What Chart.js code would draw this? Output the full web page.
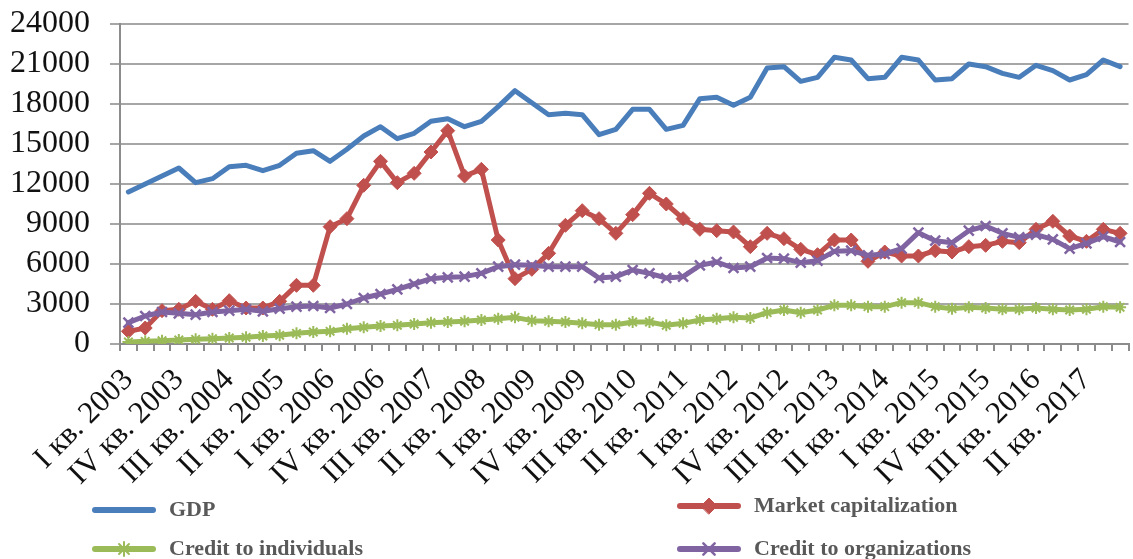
<!DOCTYPE html>
<html>
<head>
<meta charset="utf-8">
<script src="https://cdn.jsdelivr.net/npm/chart.js@4.4.1/dist/chart.umd.min.js"></script>
<style>
  html, body { margin: 0; padding: 0; background: #ffffff; overflow: hidden; width: 1133px; height: 559px; }
  #wrap { position: relative; width: 1138px; height: 559px; }
  canvas { display: block; }
</style>
</head>
<body>
<div id="wrap"><canvas id="chart" width="1138" height="559"></canvas></div>
<script>
// Quarters I 2003 … IV 2017
const years = [2003, 2004, 2005, 2006, 2007, 2008, 2009, 2010, 2011, 2012, 2013, 2014, 2015, 2016, 2017];
const quarterNames = ['I', 'II', 'III', 'IV'];
const quarters = [];
years.forEach(y => quarterNames.forEach(q => quarters.push(q + ' кв. ' + y)));

// Y axis ticks
const yTicks = [0, 3000, 6000, 9000, 12000, 15000, 18000, 21000, 24000];

// Series values, quarterly
const gdp = [
  11400, 12000, 12600, 13200, 12100, 12400, 13300, 13400, 13000, 13400,
  14300, 14500, 13700, 14600, 15600, 16300, 15400, 15800, 16700, 16900,
  16300, 16700, 17800, 19000, 18100, 17200, 17300, 17200, 15700, 16100,
  17600, 17600, 16100, 16400, 18400, 18500, 17900, 18500, 20700, 20800,
  19700, 20000, 21500, 21300, 19900, 20000, 21500, 21300, 19800, 19900,
  21000, 20800, 20300, 20000, 20900, 20500, 19800, 20200, 21300, 20800
];
const marketCap = [
  950, 1200, 2500, 2600, 3200, 2600, 3250, 2700, 2700, 3200,
  4400, 4400, 8800, 9400, 11900, 13700, 12100, 12800, 14400, 16000,
  12600, 13100, 7800, 4900, 5600, 6800, 8900, 10000, 9400, 8300,
  9700, 11300, 10500, 9400, 8600, 8500, 8400, 7300, 8300, 7900,
  7100, 6700, 7800, 7800, 6200, 6900, 6600, 6600, 7000, 6900,
  7300, 7400, 7700, 7600, 8600, 9200, 8100, 7700, 8600, 8300
];
const creditIndividuals = [
  150, 200, 250, 300, 350, 400, 450, 500, 600, 650,
  800, 900, 950, 1150, 1250, 1350, 1400, 1500, 1600, 1650,
  1700, 1800, 1900, 2000, 1750, 1700, 1650, 1550, 1450, 1450,
  1650, 1650, 1400, 1550, 1800, 1900, 2000, 1950, 2350, 2550,
  2350, 2550, 2900, 2900, 2800, 2800, 3100, 3100, 2800, 2650,
  2750, 2700, 2600, 2600, 2700, 2600, 2550, 2600, 2800, 2750
];
const creditOrganizations = [
  1600, 2100, 2400, 2300, 2200, 2400, 2500, 2600, 2450, 2650,
  2800, 2850, 2700, 3000, 3450, 3750, 4100, 4500, 4900, 5000,
  5050, 5300, 5800, 5950, 5900, 5800, 5800, 5800, 4950, 5050,
  5550, 5300, 4950, 5050, 5900, 6150, 5700, 5800, 6450, 6400,
  6100, 6250, 6950, 7000, 6650, 6750, 7150, 8350, 7750, 7600,
  8500, 8850, 8300, 8000, 8200, 7850, 7150, 7550, 8050, 7650
];

const SERIF = '"Liberation Serif", "Times New Roman", serif';

const datasets = [
  {
    label: 'GDP', data: gdp, order: 3,
    borderColor: '#4a7ebb', borderWidth: 5, pointRadius: 0,
    borderJoinStyle: 'round', borderCapStyle: 'round'
  },
  {
    label: 'Market capitalization', data: marketCap, order: 2,
    borderColor: '#c0504d', borderWidth: 5,
    pointStyle: 'rectRot', pointRadius: 7, pointBorderWidth: 1,
    pointBackgroundColor: '#c0504d', pointBorderColor: '#c0504d',
    borderJoinStyle: 'round', borderCapStyle: 'round'
  },
  {
    label: 'Credit to individuals', data: creditIndividuals, order: 1,
    borderColor: '#9bbb59', borderWidth: 5,
    pointStyle: 'star', pointRadius: 6, pointBorderWidth: 2,
    pointBackgroundColor: '#9bbb59', pointBorderColor: '#9bbb59',
    borderJoinStyle: 'round', borderCapStyle: 'round'
  },
  {
    label: 'Credit to organizations', data: creditOrganizations, order: 0,
    borderColor: '#8064a2', borderWidth: 5,
    pointStyle: 'crossRot', pointRadius: 7, pointBorderWidth: 2.5,
    pointBackgroundColor: '#8064a2', pointBorderColor: '#8064a2',
    borderJoinStyle: 'round', borderCapStyle: 'round'
  }
];

// Two-column legend under the axis labels
const legendLayout = [
  { ds: 0, x: 95, y: 510 },
  { ds: 1, x: 680, y: 506 },
  { ds: 2, x: 95, y: 549 },
  { ds: 3, x: 680, y: 549 }
];
const legendPlugin = {
  id: 'gridLegend',
  afterDraw(chart) {
    const ctx = chart.ctx;
    ctx.save();
    legendLayout.forEach(item => {
      const ds = chart.data.datasets[item.ds];
      const len = 58;
      ctx.strokeStyle = ds.borderColor;
      ctx.lineWidth = 6;
      ctx.lineCap = 'round';
      ctx.beginPath();
      ctx.moveTo(item.x, item.y);
      ctx.lineTo(item.x + len, item.y);
      ctx.stroke();
      if (ds.pointRadius) {
        ctx.fillStyle = ds.pointBackgroundColor;
        ctx.strokeStyle = ds.pointBorderColor;
        ctx.lineWidth = ds.pointBorderWidth;
        Chart.helpers.drawPoint(ctx, {
          pointStyle: ds.pointStyle, radius: ds.pointRadius + 1,
          borderWidth: ds.pointBorderWidth, rotation: 0
        }, item.x + len / 2, item.y);
      }
      ctx.fillStyle = '#595959';
      ctx.font = 'bold 22px ' + SERIF;
      ctx.textAlign = 'left';
      ctx.textBaseline = 'middle';
      ctx.fillText(ds.label, item.x + len + 16, item.y);
    });
    ctx.restore();
  }
};

new Chart(document.getElementById('chart'), {
  type: 'line',
  data: { labels: quarters, datasets: datasets },
  plugins: [legendPlugin],
  options: {
    responsive: false,
    animation: false,
    layout: { padding: { top: 24, left: 0, right: 0, bottom: 0 } },
    elements: { line: { tension: 0 } },
    plugins: { legend: { display: false }, tooltip: { enabled: false } },
    scales: {
      x: {
        offset: true,
        grid: { offset: true, drawOnChartArea: false, drawTicks: true, tickLength: 7, color: '#8c8c8c', lineWidth: 2 },
        border: { display: true, color: '#8c8c8c', width: 2 },
        ticks: {
          autoSkip: false, minRotation: 45, maxRotation: 45, padding: 11,
          color: '#111111', font: { family: SERIF, size: 31 },
          callback: (v, i) => (i % 3 === 0 ? quarters[i] : '')
        },
        afterFit: s => { s.height = 215; s.paddingLeft = 0; s.paddingRight = 0; }
      },
      y: {
        min: yTicks[0], max: yTicks[yTicks.length - 1],
        afterBuildTicks: s => { s.ticks = yTicks.map(v => ({ value: v })); },
        grid: { color: '#a6a6a6', lineWidth: 2, tickLength: 10 },
        border: { display: true, color: '#8c8c8c', width: 2 },
        ticks: {
          autoSkip: false, padding: 20, color: '#111111', font: { family: SERIF, size: 32 },
          callback: v => String(v)
        },
        afterFit: s => { s.width = 120; s.paddingTop = 0; s.paddingBottom = 0; }
      }
    }
  }
});
</script>
</body>
</html>
